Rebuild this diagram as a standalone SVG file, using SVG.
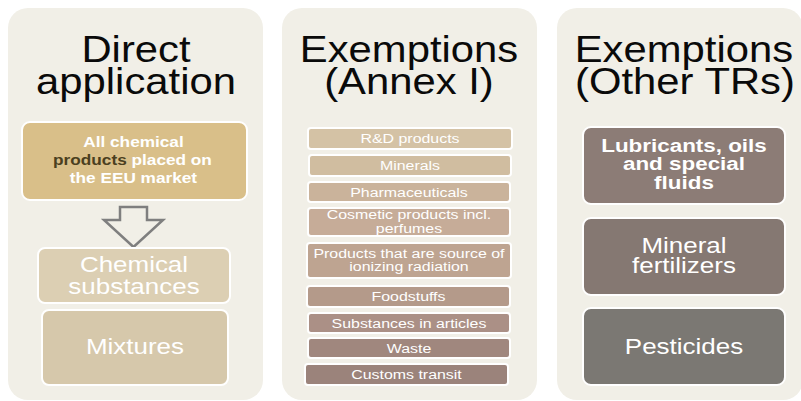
<svg xmlns="http://www.w3.org/2000/svg" width="801" height="401" viewBox="0 0 801 401">
<style>
.panel{fill:#f1efe7}
.box{stroke:#ffffff;stroke-width:2}
text{font-family:"Liberation Sans",Arial,sans-serif;text-anchor:middle}
.title{font-size:37px;fill:#0a0a0a;transform-box:fill-box;transform-origin:center;transform:scaleX(1.13)}
.st{transform-box:fill-box;transform-origin:center;transform:scaleX(1.18)}
.w{fill:#ffffff}
.b{font-weight:bold}
.sm{font-size:13.5px}
.md{font-size:19px}
.lg{font-size:22px}
.gold{font-size:14.6px}
</style>
<rect width="801" height="401" fill="#ffffff"/>

<g id="panel-direct">
<rect class="panel" x="8" y="8" width="255" height="392" rx="20"/>
<text class="title" x="136" y="62">Direct<tspan x="136" y="94">application</tspan></text>
</g>
<g id="node-all-chemical">
<rect class="box" x="22" y="122" width="225" height="78" rx="8" fill="#d9bf89"/>
<text class="w b gold st" x="133.5" y="147">All chemical</text>
<text class="w b gold st" x="132.5" y="165"><tspan fill="#4b3f20">products</tspan> placed on</text>
<text class="w b gold st" x="133.5" y="183">the EEU market</text>
</g>
<g id="connectors">
<path d="M120,207 H147 V220 H163 L133.5,247 L104,220 H120 Z" fill="none" stroke="#7f7f7f" stroke-width="2.5" stroke-linejoin="miter"/>
</g>
<g id="node-chemical-substances">
<rect class="box" x="38" y="248" width="192" height="55" rx="7" fill="#dccfb3"/>
<text class="w lg st" x="134" y="272">Chemical</text>
<text class="w lg st" x="134" y="294">substances</text>
</g>
<g id="node-mixtures">
<rect class="box" x="42" y="310" width="186" height="75" rx="7" fill="#d6c8ab"/>
<text class="w lg st" x="135" y="354">Mixtures</text>
</g>

<g id="panel-annex">
<rect class="panel" x="282" y="8" width="255" height="392" rx="20"/>
<text class="title" x="409" y="62">Exemptions<tspan x="409" y="94">(Annex I)</tspan></text>
</g>
<g id="node-rd">
<rect class="box" x="308" y="128" width="204" height="21" rx="3" fill="#d4c2a5"/>
<text class="w sm st" x="410" y="143">R&amp;D products</text>
</g>
<g id="node-minerals">
<rect class="box" x="309" y="155" width="202" height="21" rx="3" fill="#d0bda0"/>
<text class="w sm st" x="410" y="170">Minerals</text>
</g>
<g id="node-pharma">
<rect class="box" x="308" y="182" width="202" height="20" rx="3" fill="#cab39b"/>
<text class="w sm st" x="409" y="197">Pharmaceuticals</text>
</g>
<g id="node-cosmetic">
<rect class="box" x="308" y="208" width="202" height="28" rx="3" fill="#c6ac98"/>
<text class="w sm st" x="409" y="219.5">Cosmetic products incl.</text>
<text class="w sm st" x="409" y="233">perfumes</text>
</g>
<g id="node-ionizing">
<rect class="box" x="307" y="243" width="204" height="35" rx="3" fill="#bea491"/>
<text class="w sm st" x="409" y="258">Products that are source of</text>
<text class="w sm st" x="409" y="271">ionizing radiation</text>
</g>
<g id="node-foodstuffs">
<rect class="box" x="307" y="286" width="203" height="21" rx="3" fill="#b49a8a"/>
<text class="w sm st" x="408.5" y="301">Foodstuffs</text>
</g>
<g id="node-articles">
<rect class="box" x="308" y="313" width="202" height="20" rx="3" fill="#ab9086"/>
<text class="w sm st" x="409" y="328">Substances in articles</text>
</g>
<g id="node-waste">
<rect class="box" x="308" y="338" width="202" height="20" rx="3" fill="#a0877e"/>
<text class="w sm st" x="409" y="353">Waste</text>
</g>
<g id="node-customs">
<rect class="box" x="305" y="364" width="203" height="21" rx="3" fill="#9b837b"/>
<text class="w sm st" x="406.5" y="379">Customs transit</text>
</g>

<g id="panel-other">
<rect class="panel" x="557" y="8" width="246" height="392" rx="20"/>
<text class="title" x="684" y="62">Exemptions<tspan x="685" y="94">(Other TRs)</tspan></text>
</g>
<g id="node-lubricants">
<rect class="box" x="583" y="127" width="202" height="77" rx="8" fill="#8c7c76"/>
<text class="w b md st" x="684" y="152">Lubricants, oils</text>
<text class="w b md st" x="684" y="170">and special</text>
<text class="w b md st" x="684" y="189">fluids</text>
</g>
<g id="node-fertilizers">
<rect class="box" x="583" y="218" width="202" height="77" rx="8" fill="#857872"/>
<text class="w lg st" x="684" y="253">Mineral</text>
<text class="w lg st" x="684" y="273">fertilizers</text>
</g>
<g id="node-pesticides">
<rect class="box" x="583" y="308" width="202" height="77" rx="8" fill="#7b7873"/>
<text class="w lg st" x="684" y="354">Pesticides</text>
</g>
</svg>
